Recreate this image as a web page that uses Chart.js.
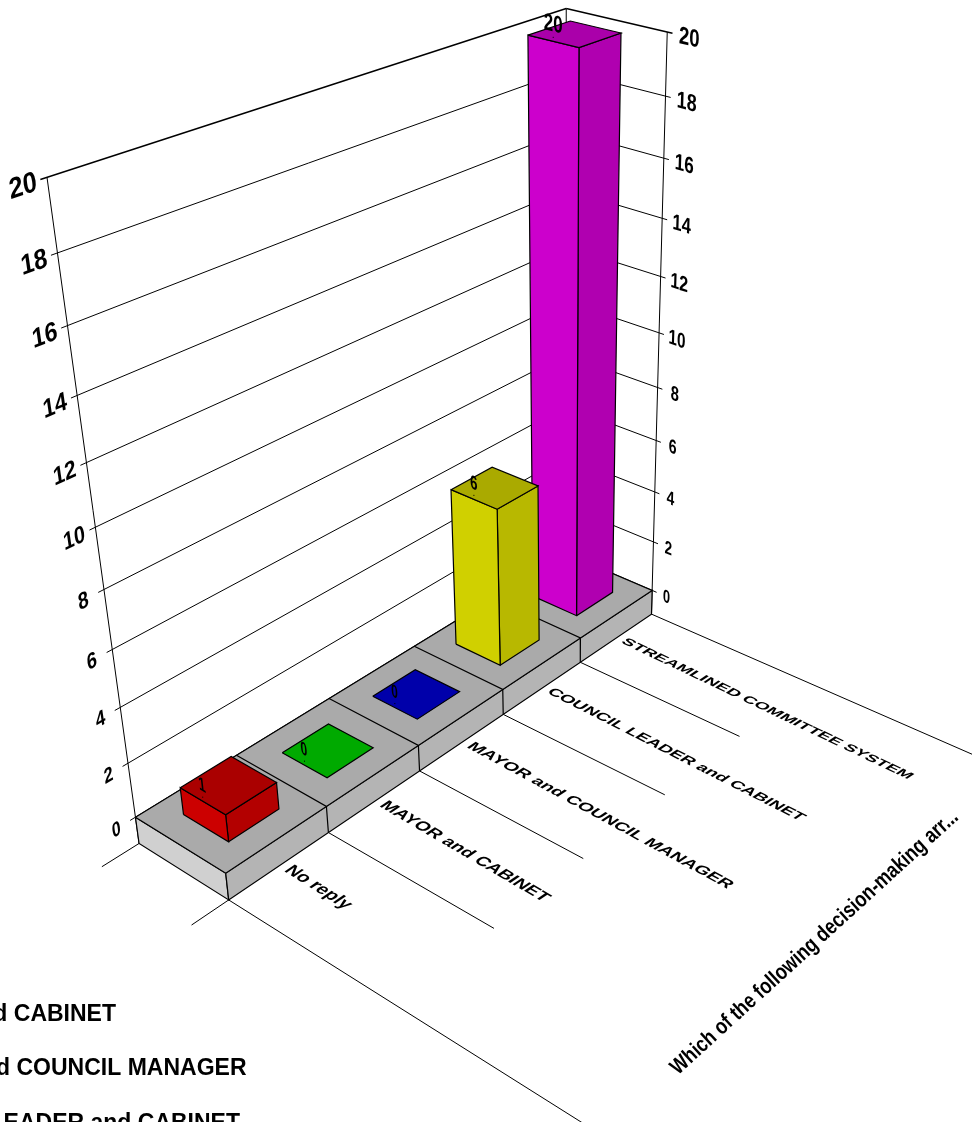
<!DOCTYPE html>
<html>
<head>
<meta charset="utf-8">
<style>html,body{margin:0;padding:0;background:#fff;overflow:hidden}canvas{display:block}</style>
<script src="https://cdn.jsdelivr.net/npm/chart.js@4"></script>
</head>
<body>
<canvas id="chart" width="972" height="1122"></canvas>
<script>
const categories = ["No reply", "MAYOR and CABINET", "MAYOR and COUNCIL MANAGER", "COUNCIL LEADER and CABINET", "STREAMLINED COMMITTEE SYSTEM"];
const values = [1, 0, 0, 6, 20];
const yTicks = [0, 2, 4, 6, 8, 10, 12, 14, 16, 18, 20];
const axisTitle = "Which of the following decision-making arr...";
const frontColors = ["#cc0000", "#00aa00", "#0000aa", "#d0d000", "#cc00cc"];
const sideColors = ["#b30000", "#00aa00", "#0000aa", "#b8b800", "#b000b0"];
const topColors = ["#aa0000", "#00aa00", "#0000aa", "#aaaa00", "#aa00aa"];
const labelStretch = [1.67, 1.73, 1.81, 1.8, 1.82];

// perspective of the old 3D chart: category position, depth, value -> page units
const camera = [
    [111.8084, 81.90753, -4.825208, 135.4390],
    [-27.57058, 23.57446, -33.51670, 817.1788],
    [0.04552603, -0.03709997, -0.008578936, 1]
];

function project(u, v, h) {
    const w = camera[2][0] * u + camera[2][1] * v + camera[2][2] * h + camera[2][3];
    return {
        x: (camera[0][0] * u + camera[0][1] * v + camera[0][2] * h + camera[0][3]) / w,
        y: (camera[1][0] * u + camera[1][1] * v + camera[1][2] * h + camera[1][3]) / w
    };
}

const layers = [];
function addLine(corners, width = 1, color = "#000") {
    layers.push({ data: corners.map(c => project(c[0], c[1], c[2])), showLine: true, pointRadius: 0, borderColor: color, borderWidth: width, tension: 0 });
}
function addFace(corners, fill, edge = "#000") {
    const closed = corners.concat([corners[0]]);
    layers.push({ data: closed.map(c => project(c[0], c[1], c[2])), showLine: true, pointRadius: 0, borderColor: edge, borderWidth: 1.2, tension: 0, faceFill: fill });
}

// walls
yTicks.forEach(t => {
    const top = t === yTicks[yTicks.length - 1];
    addLine([[-0.05, 0, t], [5, 0, t]], top ? 1.5 : 1);
    addLine([[5, 0, t], [5, 1.05, t]], top ? 1.5 : 1);
});
addLine([[0, 0, -1], [0, 0, 20]]);
addLine([[5, 0, 0], [5, 0, 20]]);
addLine([[5, 1, -1], [5, 1, 20]]);

// floor lines running out under the labels
addLine([[0, 1, -1], [0, 6.5, -1]]);
addLine([[5, 1, -1], [5, 6.5, -1]]);
[1, 2, 3, 4].forEach(u => addLine([[u, 1, -1], [u, 2.68, -1]]));
addLine([[0, 0, -1], [-0.35, 0, -1]]);
addLine([[0, 1, -1], [-0.35, 1, -1]]);

// slab
addFace([[0, 0, 0], [0, 1, 0], [0, 1, -1], [0, 0, -1]], "#d0d0d0");
addFace([[0, 1, 0], [5, 1, 0], [5, 1, -1], [0, 1, -1]], "#b4b4b4");
addFace([[0, 0, 0], [5, 0, 0], [5, 1, 0], [0, 1, 0]], "#aaaaaa");
[1, 2, 3, 4].forEach(u => addLine([[u, 0, 0], [u, 1, 0], [u, 1, -1]], 1.2));

// bars, furthest first
for (let i = categories.length - 1; i >= 0; i--) {
    const a = i + 0.25, b = i + 0.75, n = 0.25, f = 0.75, h = values[i];
    if (h > 0) {
        addFace([[a, f, 0], [b, f, 0], [b, f, h], [a, f, h]], sideColors[i]);
        addFace([[a, n, 0], [a, f, 0], [a, f, h], [a, n, h]], frontColors[i]);
    }
    addFace([[a, n, h], [b, n, h], [b, f, h], [a, f, h]], topColors[i]);
}

// first dataset is painted last, so flip
layers.forEach((d, i) => { d.order = layers.length - i; });

const faceFill = {
    id: "faceFill",
    beforeDatasetDraw(chart, args) {
        const fill = chart.data.datasets[args.index].faceFill;
        if (!fill) return;
        const pts = args.meta.data, c = chart.ctx;
        c.save();
        c.beginPath();
        pts.forEach((p, i) => i ? c.lineTo(p.x, p.y) : c.moveTo(p.x, p.y));
        c.closePath();
        c.fillStyle = fill;
        c.fill();
        c.restore();
    }
};

function unit(a, b) {
    const dx = b.x - a.x, dy = b.y - a.y, l = Math.hypot(dx, dy);
    return { x: dx / l, y: dy / l, len: l };
}
// text lying in a plane: ex runs along the baseline, ey runs down the glyph
function planeText(c, str, at, ex, ey, sx, sy, font, align) {
    c.save();
    c.transform(ex.x * sx / 20, ex.y * sx / 20, ey.x * sy / 20, ey.y * sy / 20, at.x, at.y);
    c.font = font + " 20px 'Liberation Sans', Arial, sans-serif";
    c.fillStyle = "#000";
    c.textAlign = align;
    c.textBaseline = "alphabetic";
    c.fillText(str, 0, 0);
    c.restore();
}

const labels = {
    id: "labels",
    afterDatasetsDraw(chart) {
        const c = chart.ctx;
        yTicks.forEach(t => {
            let p = project(-0.18, 0, t);
            let down = unit(project(-0.18, 0, t + 0.5), project(-0.18, 0, t - 0.5));
            let along = unit(project(-0.23, 0, t), project(-0.13, 0, t));
            let s = down.len;
            planeText(c, String(t), { x: p.x + down.x * s * 0.25, y: p.y + down.y * s * 0.25 }, along, down, s * 0.66, s * 0.74, "bold", "center");
            const rv = 1.16 + 0.05 * t / 20;
            p = project(5, rv, t);
            down = unit(project(5, rv, t + 0.5), project(5, rv, t - 0.5));
            along = unit(project(5, rv - 0.05, t), project(5, rv + 0.05, t));
            s = down.len;
            planeText(c, String(t), { x: p.x + down.x * s * 0.25, y: p.y + down.y * s * 0.25 }, along, down, s * 0.58, s * 0.75, "bold", "center");
        });
        const tilt = 1.2 * Math.PI / 180;
        categories.forEach((name, i) => {
            const anchor = project(i + 0.5, 1.04, -1);
            const dir = unit(project(i + 0.5, 0.99, -1), project(i + 0.5, 1.09, -1));
            const along = {
                x: dir.x * Math.cos(tilt) - dir.y * Math.sin(tilt),
                y: dir.x * Math.sin(tilt) + dir.y * Math.cos(tilt),
                len: dir.len
            };
            const up = unit(project(i + 0.55, 1.04, -1), project(i + 0.45, 1.04, -1));
            planeText(c, name, { x: anchor.x, y: anchor.y + 3 }, along, up, along.len * labelStretch[i], up.len * 1.5, "bold", "left");
        });
        values.forEach((val, i) => {
            const p = project(i + 0.25, 0.5, val);
            const dot = { x: p.x, y: p.y - 4 };
            c.fillStyle = "#000";
            c.fillRect(dot.x - 0.5, dot.y - 0.5, 1, 1);
            const down = unit(project(i + 0.25, 0.5, val + 0.5), project(i + 0.25, 0.5, val - 0.5));
            const along = unit(project(i + 0.25, 0.45, val), project(i + 0.25, 0.55, val));
            const s = down.len;
            planeText(c, String(val), { x: dot.x, y: dot.y - 6 }, along, down, s * 0.53, s * 0.72, "bold", "center");
        });
        // axis title
        c.save();
        c.translate(674, 1071);
        c.rotate(-42.4 * Math.PI / 180);
        c.font = "bold 22px 'Liberation Sans', Arial, sans-serif";
        c.fillStyle = "#000";
        c.textBaseline = "alphabetic";
        const w = c.measureText(axisTitle).width;
        c.scale(381 / w, 1);
        c.fillText(axisTitle, 0, 6);
        c.restore();
        // legend, cut off by the page edge
        c.font = "bold 23px 'Liberation Sans', Arial, sans-serif";
        c.textAlign = "right";
        c.fillText(categories[1], 116, 1020.5);
        c.fillText(categories[2], 246.5, 1075);
        c.fillText(categories[3], 240, 1130);
    }
};

new Chart(document.getElementById("chart"), {
    type: "scatter",
    data: { datasets: layers },
    options: {
        responsive: false,
        animation: false,
        layout: { padding: 0 },
        scales: {
            x: { type: "linear", display: false, min: 0, max: 972 },
            y: { type: "linear", display: false, min: 0, max: 1122, reverse: true }
        },
        plugins: { legend: { display: false }, tooltip: { enabled: false } }
    },
    plugins: [faceFill, labels]
});
</script>
</body>
</html>
